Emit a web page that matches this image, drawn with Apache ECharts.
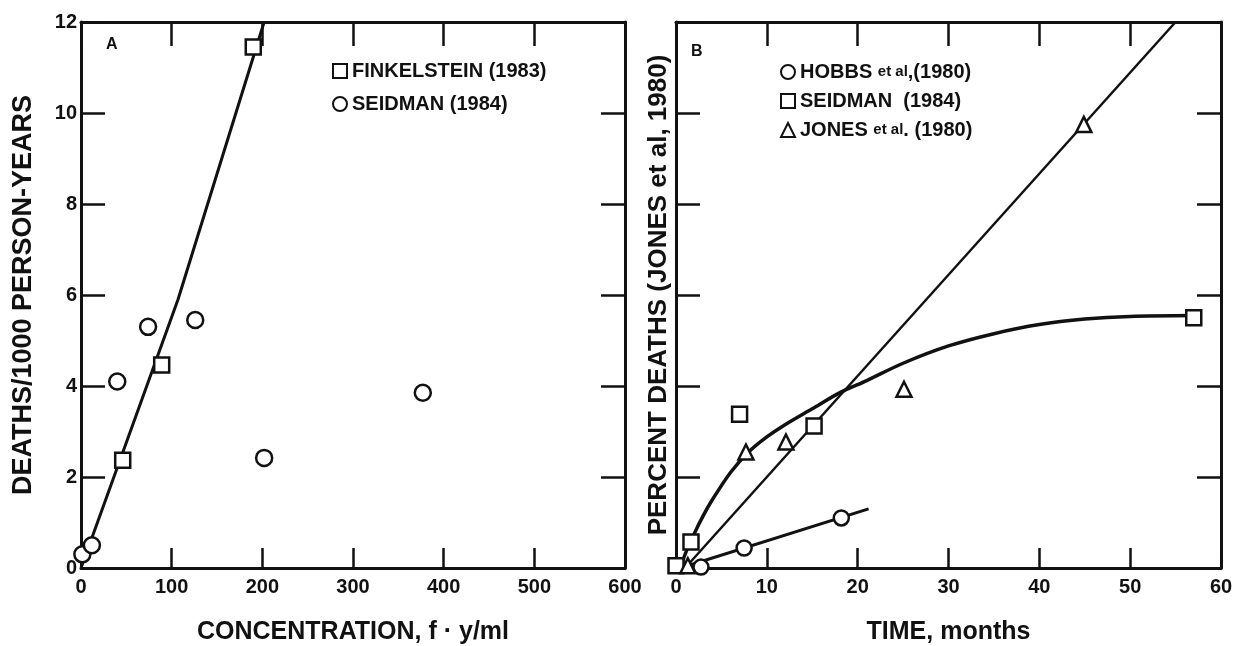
<!DOCTYPE html>
<html>
<head>
<meta charset="utf-8">
<script src="https://cdn.jsdelivr.net/npm/echarts@6/dist/echarts.min.js"></script>
<style>
html,body{margin:0;padding:0;background:#fff;}
#c{width:1241px;height:646px;}
</style>
</head>
<body>
<div id="c"></div>
<script>
// ---- Panel A: deaths vs concentration ----
const xTicksA = [0, 100, 200, 300, 400, 500, 600];
const yTicksA = [0, 2, 4, 6, 8, 10, 12];
const finkelstein = [[46, 2.37], [89, 4.46], [190, 11.45]];
const seidmanA = [[1.5, 0.3], [12, 0.5], [40, 4.1], [74, 5.3], [126, 5.45], [202, 2.42], [377, 3.85]];
const finkelsteinFit = [[0, 0], [107, 5.9], [202, 12]];

// ---- Panel B: percent deaths vs time ----
const xTicksB = [0, 10, 20, 30, 40, 50, 60];
const hobbs = [[2.75, 0.02], [7.5, 0.44], [18.2, 1.1]];
const seidmanB = [[0, 0.05], [1.65, 0.57], [7, 3.38], [15.2, 3.12], [57, 5.5]];
const jones = [[1.3, 0.05], [7.7, 2.55], [12.1, 2.77], [25.1, 3.93], [44.9, 9.75]];
const hobbsFit = [[0.5, 0], [21.2, 1.3]];
const jonesFit = [[1, 0], [55, 12]];
const seidmanFit = [[0.5, 0], [1, 0.3], [2, 0.75], [3, 1.15], [4, 1.5], [6, 2.1], [8, 2.55], [10, 2.88],
  [12, 3.15], [15, 3.5], [18, 3.85], [21, 4.12], [25, 4.5], [30, 4.88], [35, 5.15], [40, 5.35], [45, 5.47], [50, 5.53], [57, 5.55]];

const INK = '#111';
const FONT = '"Liberation Sans", Arial, sans-serif';

function xAxisDef(gi, min, max, interval, name, show) {
  return {
    type: 'value', gridIndex: gi, min: min, max: max, interval: interval, position: show ? 'bottom' : 'top',
    name: show ? name : '', nameLocation: 'middle', nameGap: 52,
    nameTextStyle: {fontFamily: FONT, fontWeight: 'bold', fontSize: 25, color: INK},
    axisLine: {show: true, onZero: false, lineStyle: {color: INK, width: 3}},
    axisTick: {show: true, inside: true, length: show ? 20 : 24, lineStyle: {color: INK, width: 2.5}},
    axisLabel: {show: show, fontFamily: FONT, fontWeight: 'bold', fontSize: 20, color: INK, margin: 9},
    splitLine: {show: false}
  };
}
function yAxisDef(gi, name, showLabel, pos, nameGap, nameSize) {
  return {
    type: 'value', gridIndex: gi, min: 0, max: 12, interval: 2, position: pos,
    name: name, nameLocation: 'middle', nameGap: nameGap,
    nameTextStyle: {fontFamily: FONT, fontWeight: 'bold', fontSize: nameSize, color: INK},
    axisLine: {show: true, onZero: false, lineStyle: {color: INK, width: 3}},
    axisTick: {show: true, inside: true, length: 24, lineStyle: {color: INK, width: 2.5}},
    axisLabel: {show: showLabel, fontFamily: FONT, fontWeight: 'bold', fontSize: 20, color: INK, margin: 4},
    splitLine: {show: false}
  };
}

const hollow = {color: '#fff', borderColor: INK, borderWidth: 2.5, opacity: 1};

const option = {
  backgroundColor: '#fff',
  animation: false,
  grid: [
    {left: 81, top: 22, width: 544, height: 546, outerBoundsMode: 'none', containLabel: false},
    {left: 676, top: 22, width: 545, height: 546, outerBoundsMode: 'none', containLabel: false}
  ],
  xAxis: [
    xAxisDef(0, 0, 600, 100, 'CONCENTRATION, f · y/ml', true),
    xAxisDef(0, 0, 600, 100, '', false),
    xAxisDef(1, 0, 60, 10, 'TIME, months', true),
    xAxisDef(1, 0, 60, 10, '', false)
  ],
  yAxis: [
    yAxisDef(0, 'DEATHS/1000 PERSON-YEARS', true, 'left', 44, 27),
    yAxisDef(0, '', false, 'right', 10, 20),
    yAxisDef(1, 'PERCENT DEATHS (JONES et al, 1980)', false, 'left', 4, 26),
    yAxisDef(1, '', false, 'right', 10, 20)
  ],
  legend: [
    {
      orient: 'vertical', left: 327, top: 56, itemGap: 13, itemWidth: 14, itemHeight: 14,
      data: ['FINKELSTEIN (1983)', 'SEIDMAN (1984)'],
      textStyle: {fontFamily: FONT, fontWeight: 'bold', fontSize: 20, color: INK},
      selectedMode: false
    },
    {
      orient: 'vertical', left: 775, top: 57, itemGap: 9, itemWidth: 14, itemHeight: 14,
      data: ['HOBBS et al,(1980)', 'SEIDMAN  (1984)', 'JONES et al. (1980)'],
      formatter: function (n) { return n.replace(/et al/, '{s|et al}'); },
      textStyle: {fontFamily: FONT, fontWeight: 'bold', fontSize: 20, color: INK,
        rich: {s: {fontFamily: FONT, fontWeight: 'bold', fontSize: 15, color: INK}}},
      selectedMode: false
    }
  ],
  graphic: [
    {type: 'text', left: 106, top: 37, style: {text: 'A', fontFamily: FONT, fontWeight: 'bold', fontSize: 16, fill: INK}},
    {type: 'text', left: 691, top: 44, style: {text: 'B', fontFamily: FONT, fontWeight: 'bold', fontSize: 16, fill: INK}}
  ],
  series: [
    {type: 'line', xAxisIndex: 0, yAxisIndex: 0, data: finkelsteinFit, symbol: 'none',
      lineStyle: {color: INK, width: 3}, z: 2},
    {name: 'FINKELSTEIN (1983)', type: 'scatter', xAxisIndex: 0, yAxisIndex: 0, data: finkelstein,
      symbol: 'rect', symbolSize: 15, itemStyle: hollow, z: 5},
    {name: 'SEIDMAN (1984)', type: 'scatter', xAxisIndex: 0, yAxisIndex: 0, data: seidmanA,
      symbol: 'circle', symbolSize: 16, itemStyle: hollow, z: 5},

    {type: 'line', xAxisIndex: 2, yAxisIndex: 2, data: hobbsFit, symbol: 'none',
      lineStyle: {color: INK, width: 3}, z: 2},
    {type: 'line', xAxisIndex: 2, yAxisIndex: 2, data: jonesFit, symbol: 'none',
      lineStyle: {color: INK, width: 2.5}, z: 2},
    {type: 'line', xAxisIndex: 2, yAxisIndex: 2, data: seidmanFit, symbol: 'none', smooth: 0.3,
      lineStyle: {color: INK, width: 3.5}, z: 2},
    {name: 'HOBBS et al,(1980)', type: 'scatter', xAxisIndex: 2, yAxisIndex: 2, data: hobbs,
      symbol: 'circle', symbolSize: 15, itemStyle: hollow, z: 5},
    {name: 'SEIDMAN  (1984)', type: 'scatter', xAxisIndex: 2, yAxisIndex: 2, data: seidmanB,
      symbol: 'rect', symbolSize: 15, itemStyle: hollow, z: 5},
    {name: 'JONES et al. (1980)', type: 'scatter', xAxisIndex: 2, yAxisIndex: 2, data: jones,
      symbol: 'triangle', symbolSize: 15, itemStyle: hollow, z: 5}
  ]
};

const chart = echarts.init(document.getElementById('c'), null, {renderer: 'canvas'});
chart.setOption(option);
</script>
</body>
</html>
